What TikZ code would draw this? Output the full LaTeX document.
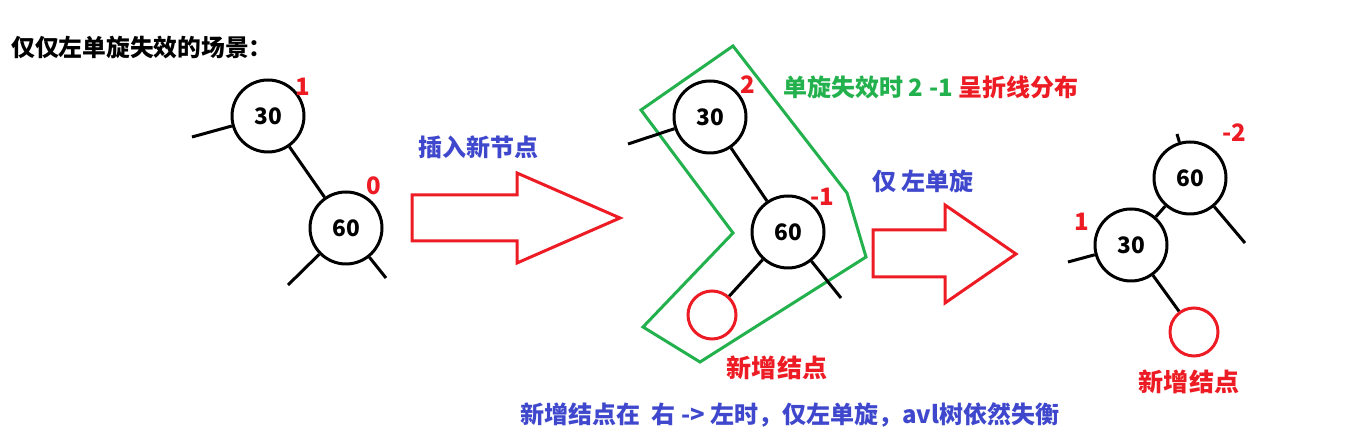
\documentclass[tikz,border=0pt]{standalone}
\usepackage{fontspec}
\setmainfont{Noto Sans CJK SC}
\usetikzlibrary{positioning}
\definecolor{pred}{RGB}{237,28,36}
\definecolor{pgreen}{RGB}{34,177,76}
\definecolor{pblue}{RGB}{63,72,204}

\begin{document}
\begin{tikzpicture}[x=0.75pt, y=-0.75pt, line width=2.25pt,
  nd/.style={draw, circle, minimum size=54pt, inner sep=0pt, font=\fontsize{17}{20}\selectfont\bfseries},
  nw/.style={draw=pred, circle, minimum size=36pt, inner sep=0pt},
  bf/.style={text=pred, inner sep=0pt, font=\fontsize{18}{21}\selectfont\bfseries},
  lbl/.style={text=pblue, inner sep=0pt, font=\fontsize{18}{21}\selectfont\bfseries},
  bigarrow/.style={draw=pred, line join=miter},
  zone/.style={draw=pgreen}]
\useasboundingbox (0,0) rectangle (1347,448);

\node[anchor=west, inner sep=0pt, font=\fontsize{17.8}{21}\selectfont\bfseries] (title) at (10,47) {仅仅左单旋失效的场景：};

\node[nd] (a30) at (268,116) {30};
\node[nd] (a60) at (346,228) {60};
\coordinate (a30l) at (192,137);
\coordinate (a60l) at (288,285);
\coordinate (a60r) at (386,278);
\draw (a30) -- (a30l);
\draw (a30) -- (a60);
\draw (a60) -- (a60l);
\draw (a60) -- (a60r);
\node[bf] (a30b) at (303,87) {1};
\node[bf] (a60b) at (374,186) {0};

\draw[bigarrow] (412,195) -- (517,195) -- (517,173) -- (620,218) -- (517,263) -- (517,241) -- (412,241) -- cycle;
\node[lbl] (ins) at (478,147) {插入新节点};

\draw[zone] (641,110) -- (733,46) -- (847,193) -- (866,257) -- (700,362) -- (643,327) -- (733,233) -- cycle;
\node[nd] (b30) at (710,117) {30};
\node[nd] (b60) at (788,232) {60};
\node[nw] (bnew) at (712,315) {};
\coordinate (b30l) at (628,144);
\coordinate (b60r) at (841,298);
\draw (b30) -- (b30l);
\draw (b30) -- (b60);
\draw (b60) -- (bnew);
\draw (b60) -- (b60r);
\node[bf] (b30b) at (748,85) {2};
\node[bf] (b60b) at (822,197) {-1};
\node[anchor=west, inner sep=0pt, text=pgreen, font=\fontsize{18}{21}\selectfont\bfseries] (note) at (782,87) {单旋失效时 2 -1 \textcolor{pred}{呈折线分布}};
\node[bf, font=\fontsize{18.8}{22}\selectfont\bfseries] (bnewl) at (777,368) {新增结点};

\draw[bigarrow] (873,230) -- (945,230) -- (945,205) -- (1016,254) -- (945,303) -- (945,277) -- (873,277) -- cycle;
\node[lbl] (rot) at (923,181) {仅 左单旋};

\node[nd] (c60) at (1190,178) {60};
\node[nd] (c30) at (1131,245) {30};
\node[nw] (cnew) at (1194,332) {};
\coordinate (c60t) at (1177,134);
\coordinate (c60r) at (1245,243);
\coordinate (c30l) at (1068,262);
\draw (c60) -- (c60t);
\draw (c60) -- (c30);
\draw (c60) -- (c60r);
\draw (c30) -- (c30l);
\draw (c30) -- (cnew);
\node[bf] (c60b) at (1234,133) {-2};
\node[bf] (c30b) at (1082,222) {1};
\node[bf, font=\fontsize{18.8}{22}\selectfont\bfseries] (cnewl) at (1189,382) {新增结点};

\node[lbl] (sum) at (790,415) {新增结点在\ \ 右 -> 左时，仅左单旋，avl树依然失衡};
\end{tikzpicture}
\end{document}
